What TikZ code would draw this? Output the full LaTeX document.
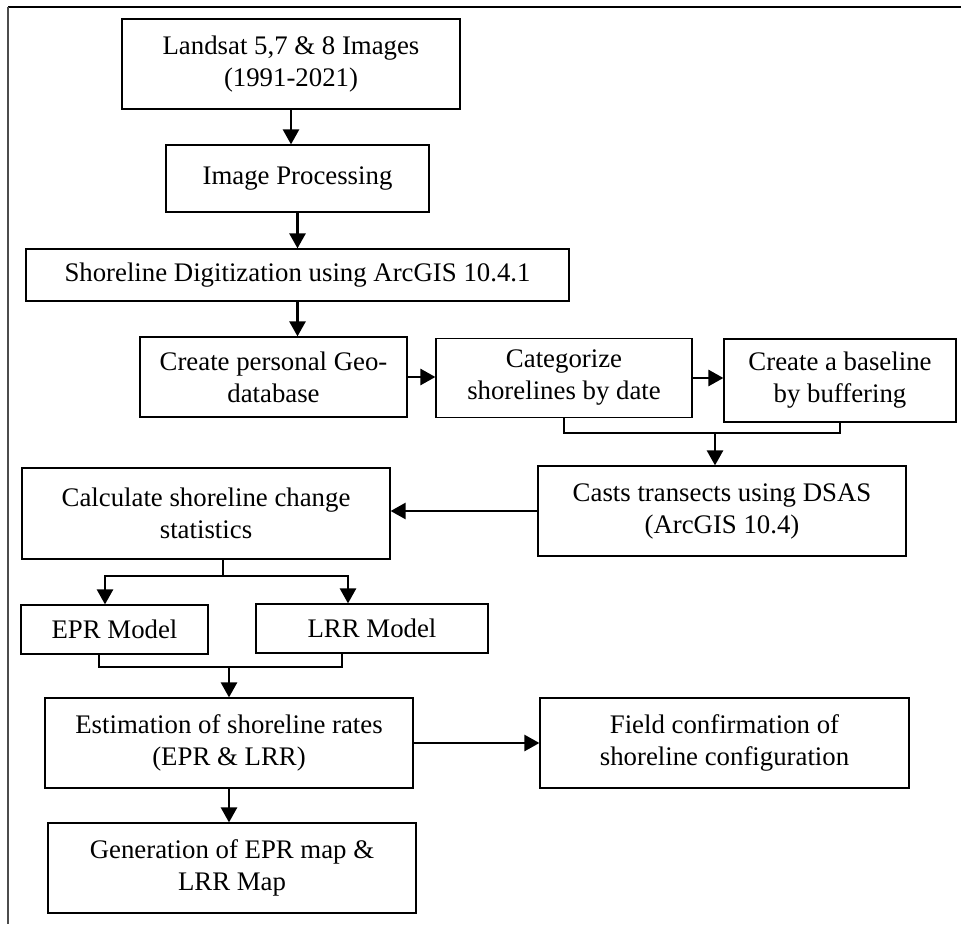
\documentclass[tikz,border=0pt]{standalone}
\usepackage{fontspec}
\setmainfont{Liberation Serif}
\usetikzlibrary{arrows.meta}
\tikzset{
    blk/.style={draw, line width=0.6pt, align=center, inner sep=0pt,
        font=\fontsize{13.4pt}{16pt}\selectfont},
    sz/.style 2 args={minimum width=#1*0.5pt, minimum height=#2*0.5pt},
    link/.style={line width=1.3pt},
    arr/.style={line width=1.3pt, -{Triangle[length=7.5pt,width=8pt]}}
}

\begin{document}
\begin{tikzpicture}[x=0.5pt, y=-0.5pt]
        \useasboundingbox (0,0) rectangle (961,924);
        % frame
        \draw[line width=0.8pt] (961,7) -- (8,7);
        \draw[line width=0.6pt, black!70] (8,7) -- (8,924);

        % boxes
        \node[blk, sz={338}{90}] (land) at (291,64) {Landsat 5,7 \& 8 Images\\(1991-2021)};
        \node[blk, sz={263}{67}] (imgp) at (297.5,178.5) {Image Processing};
        \node[blk, sz={543}{52}] (shore) at (297.5,275) {Shoreline Digitization using ArcGIS 10.4.1};
        \node[blk, sz={267}{80}] (geo) at (273.5,377) {Create personal Geo-\\database};
        \node[blk, sz={256}{79}] (cat) at (564,378) {Categorize\\shorelines by date};
        \node[blk, sz={232}{83}] (base) at (840,380.5) {Create a baseline\\by buffering};
        \node[blk, sz={368}{90}] (dsas) at (722,511) {Casts transects using DSAS\\(ArcGIS 10.4)};
        \node[blk, sz={368}{91}] (calc) at (206,513.5) {Calculate shoreline change\\statistics};
        \node[blk, sz={187}{49}] (epr) at (114.5,629.5) {EPR Model};
        \node[blk, sz={232}{49}] (lrr) at (372,628.5) {LRR Model};
        \node[blk, sz={368}{90}] (est) at (229,743) {Estimation of shoreline rates\\(EPR \& LRR)};
        \node[blk, sz={369}{90}] (field) at (724.5,743) {Field confirmation of\\shoreline configuration};
        \node[blk, sz={368}{90}] (gen) at (232,868) {Generation of EPR map \&\\LRR Map};

        % junction points
        \coordinate (m1) at (715,433);
        \coordinate (m2) at (223,576);
        \coordinate (m2l) at (105,576);
        \coordinate (m2r) at (348,576);
        \coordinate (m3) at (229,667);
        \coordinate (m3l) at (99,667);
        \coordinate (m3r) at (342,667);

        % connectors
        \draw[arr] (land.south) -- (land.south |- imgp.north);
        \draw[arr] (imgp.south) -- (imgp.south |- shore.north);
        \draw[arr] (shore.south) -- (shore.south |- geo.north);
        \draw[arr] (geo.east) -- (geo.east -| cat.west);
        \draw[arr] (cat.east) -- (cat.east -| base.west);
        \draw[link] (cat.south) -- (cat.south |- m1) -- (base.south |- m1) -- (base.south);
        \draw[arr] (m1) -- (m1 |- dsas.north);
        \draw[arr] (dsas.west) -- (dsas.west -| calc.east);
        \draw[link] (m2 |- calc.south) -- (m2);
        \draw[arr] (m2) -- (m2l) -- (m2l |- epr.north);
        \draw[arr] (m2) -- (m2r) -- (m2r |- lrr.north);
        \draw[link] (m3l |- epr.south) -- (m3l) -- (m3r) -- (m3r |- lrr.south);
        \draw[arr] (m3) -- (m3 |- est.north);
        \draw[arr] (est.south) -- (est.south |- gen.north);
        \draw[arr] (est.east) -- (est.east -| field.west);
    \end{tikzpicture}
\end{document}
